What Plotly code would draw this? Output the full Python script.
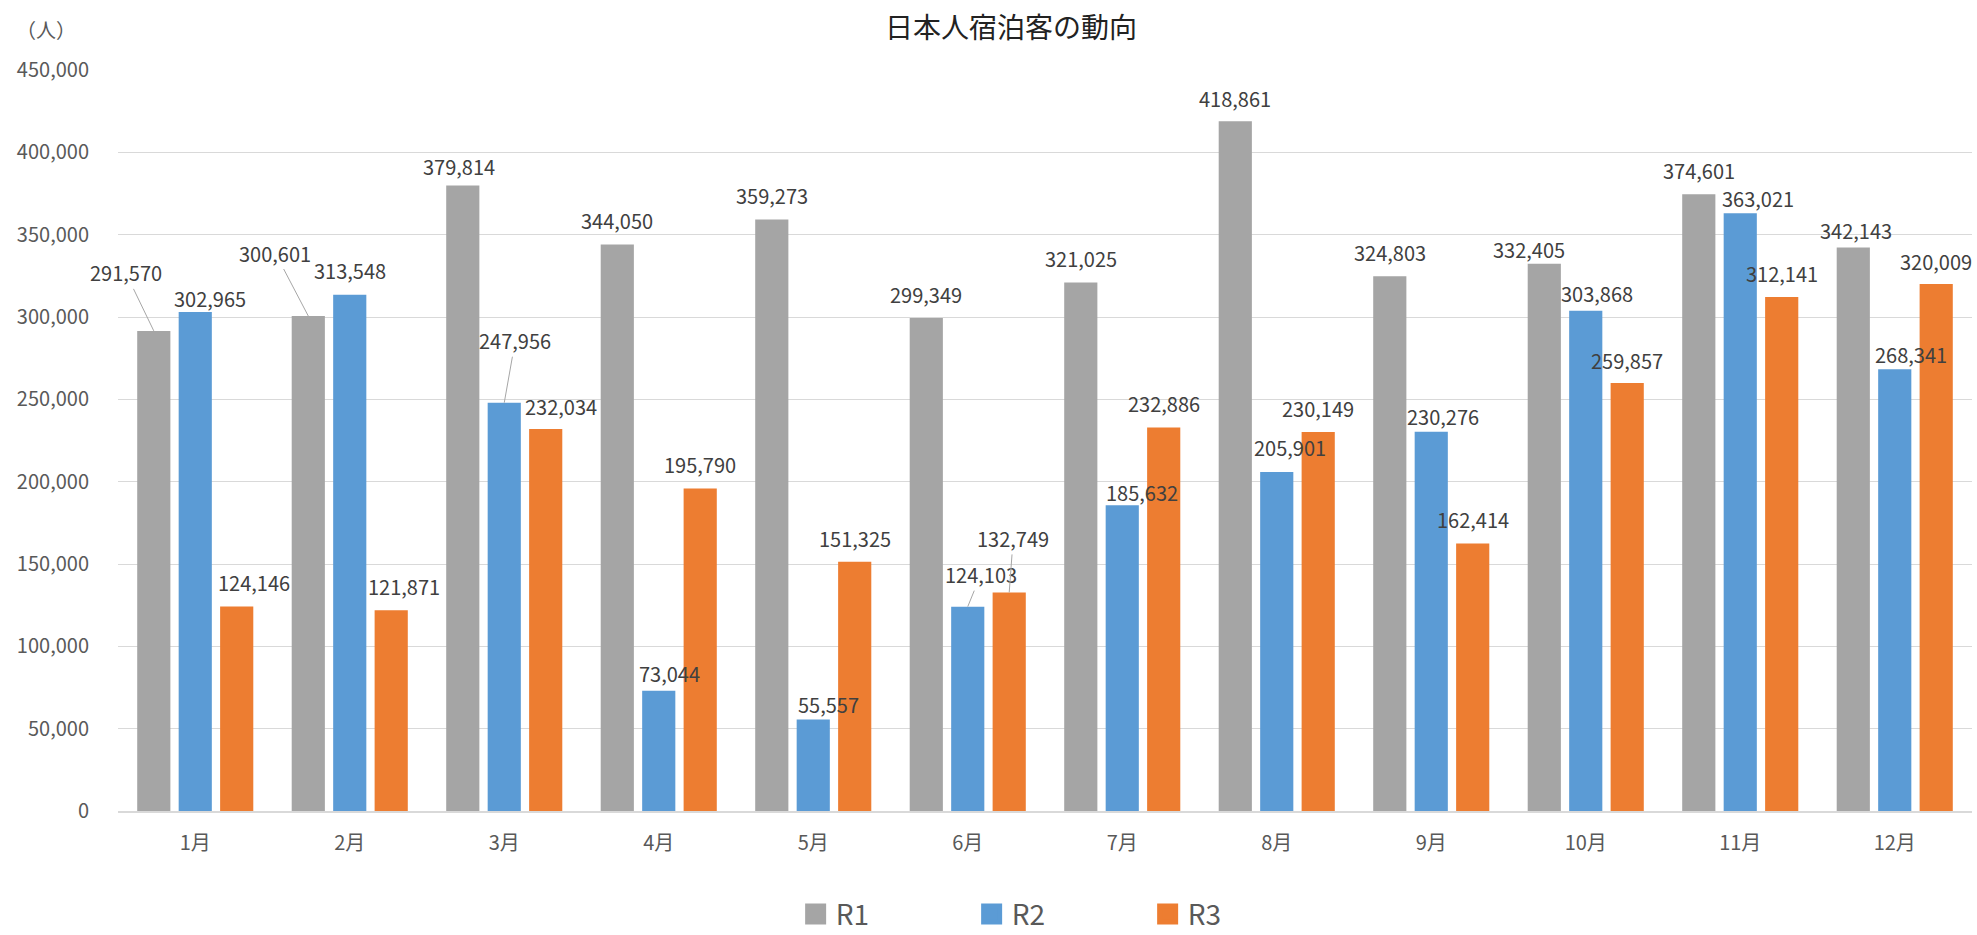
import plotly.graph_objects as go

months = ["1月", "2月", "3月", "4月", "5月", "6月", "7月", "8月", "9月", "10月", "11月", "12月"]
series_names = ["R1", "R2", "R3"]
r1 = [291570, 300601, 379814, 344050, 359273, 299349, 321025, 418861, 324803, 332405, 374601, 342143]
r2 = [302965, 313548, 247956, 73044, 55557, 124103, 185632, 205901, 230276, 303868, 363021, 268341]
r3 = [124146, 121871, 232034, 195790, 151325, 132749, 232886, 230149, 162414, 259857, 312141, 320009]
y_ticks = [0, 50000, 100000, 150000, 200000, 250000, 300000, 350000, 400000, 450000]

# label placement (pixel offsets of each value label from its bar top)
r1_dx = [-28, -33, -4, 0, 0, 0, 0, 0, 0, -15, 0, 3]
r1_dy = [58, 63, 19, 24, 24, 24, 24, 23, 24, 14, 24, 17]
r1_leader = [1, 1, 0, 0, 0, 0, 0, 0, 0, 0, 0, 0]
r2_dx = [15, 0, 11, 11, 15, 13, 20, 13, 12, 11, 18, 16]
r2_dy = [14, 24, 62, 17, 15, 32, 13, 24, 15, 17, 15, 15]
r2_leader = [0, 0, 1, 0, 0, 1, 0, 0, 0, 0, 0, 0]
r3_dx = [17, 13, 15, 0, 0, 4, 0, 0, 0, 0, 0, 0]
r3_dy = [24, 24, 22, 24, 23, 54, 24, 24, 24, 23, 24, 23]
r3_leader = [0, 0, 0, 0, 0, 1, 0, 0, 0, 0, 0, 0]

colors = ["#A5A5A5", "#5B9BD5", "#ED7D31"]
FONT = "Noto Sans CJK JP, Noto Sans, sans-serif"
BARGAP = 0.195
BARGROUPGAP = 0.2

values = [r1, r2, r3]
dxs = [r1_dx, r2_dx, r3_dx]
dys = [r1_dy, r2_dy, r3_dy]
leaders = [r1_leader, r2_leader, r3_leader]

fig = go.Figure()
for name, vals, col in zip(series_names, values, colors):
    fig.add_trace(go.Bar(x=months, y=vals, name=name, marker_color=col,
                         marker_line_width=0, showlegend=False, legendgroup=name,
                         hoverinfo="x+y+name"))
for name, col in zip(series_names, colors):
    fig.add_trace(go.Scatter(x=[None], y=[None], mode="markers", name=name, legendgroup=name,
                             marker=dict(symbol="square", size=16, color=col,
                                         line=dict(color=col, width=5))))

slot = (1 - BARGAP) / 3
annotations = []
for k, (vals, dx, dy, ld) in enumerate(zip(values, dxs, dys, leaders)):
    for i, v in enumerate(vals):
        xc = i + (k - 1) * slot
        txt = f"{v:,}"
        common = dict(x=xc, y=v, xref="x", yref="y", text=txt,
                      font=dict(family=FONT, size=20, color="#404040"))
        if ld[i]:
            annotations.append(dict(**common, showarrow=True, arrowhead=0, arrowwidth=1,
                                    arrowcolor="#A6A6A6", ax=dx[i], ay=-dy[i],
                                    standoff=0, startstandoff=0))
        else:
            annotations.append(dict(**common, showarrow=False, xshift=dx[i], yshift=dy[i],
                                    yanchor="middle", xanchor="center"))

annotations.append(dict(text="（人）", xref="paper", yref="paper", x=-0.039, y=1.054,
                        xanchor="center", yanchor="middle", showarrow=False,
                        font=dict(family=FONT, size=20, color="#595959")))

fig.update_layout(
    width=1977, height=935,
    margin=dict(l=118, r=5, t=70, b=124, autoexpand=False),
    paper_bgcolor="white", plot_bgcolor="white",
    barmode="group", bargap=BARGAP, bargroupgap=BARGROUPGAP,
    title=dict(text="日本人宿泊客の動向", x=0.5114, y=0.970, xanchor="center", yanchor="middle",
               font=dict(family=FONT, size=28, color="#222222")),
    font=dict(family=FONT, color="#595959"),
    showlegend=True,
    legend=dict(orientation="h", x=0.3655, y=-0.1395, xanchor="left", yanchor="middle",
                font=dict(family=FONT, size=28, color="#595959"),
                entrywidth=131, itemclick=False, itemdoubleclick=False),
    annotations=annotations,
)
fig.update_xaxes(type="category", range=[-0.5, len(months) - 0.5], autorange=False,
                 showgrid=False, showline=True, linecolor="#D9D9D9", linewidth=2,
                 ticks="outside", ticklen=13, tickcolor="rgba(0,0,0,0)",
                 tickfont=dict(family=FONT, size=20, color="#595959"), fixedrange=True)
fig.update_yaxes(range=[0, 450000], autorange=False, tickvals=y_ticks, tickformat=",", showgrid=True,
                 gridcolor="#D9D9D9", gridwidth=1, zeroline=False, showline=False,
                 ticks="outside", ticklen=24, tickcolor="rgba(0,0,0,0)",
                 tickfont=dict(family=FONT, size=20, color="#595959"), fixedrange=True)

fig.write_html("out.html")
